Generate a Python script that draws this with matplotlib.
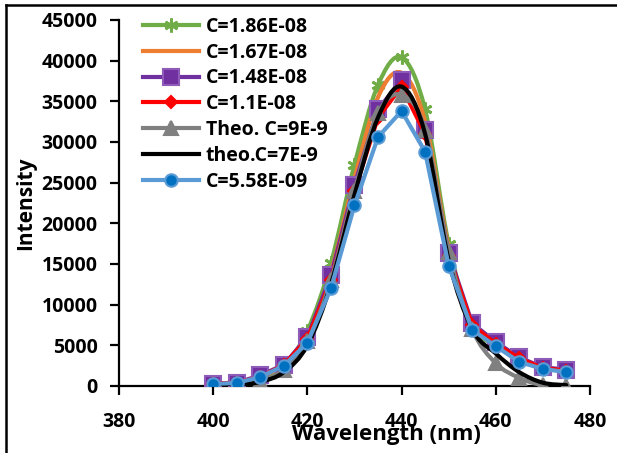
import matplotlib
matplotlib.use("Agg")
import matplotlib.pyplot as plt
import numpy as np
from matplotlib.path import Path
from matplotlib.patches import PathPatch
from matplotlib.lines import Line2D

plt.rcParams['font.family'] = ['Open Sans', 'DejaVu Sans']
plt.rcParams['font.weight'] = 'bold'

wavelength = [400, 405, 410, 415, 420, 425, 430, 435, 440, 445, 450, 455, 460, 465, 470, 475]

c186 = [300, 400, 1000, 2500, 6800, 15100, 27200, 37000, 40400, 34000, 17500, 7500, 5000, 3300, 2200, 1900]
c167 = [300, 400, 1200, 2600, 6200, 14000, 25500, 35500, 38500, 32500, 17000, 7600, 5300, 3400, 2200, 1900]
c148 = [300, 400, 1300, 2600, 6000, 13600, 24700, 34000, 37600, 31500, 16300, 7700, 5400, 3500, 2300, 2000]
c110 = [300, 400, 1100, 2600, 5800, 13000, 24000, 33000, 36800, 31000, 16000, 7500, 5200, 3400, 2200, 1900]
theo9 = [100, 200, 600, 2000, 5500, 13000, 24000, 33500, 35800, 31500, 16500, 7000, 2800, 1000, 100, 50]
theo7 = [100, 150, 500, 1700, 5000, 12500, 23500, 33000, 36800, 31000, 15500, 7000, 4000, 1700, 400, 100]
c558 = [250, 370, 1100, 2500, 5300, 12000, 22200, 30600, 33800, 28800, 14800, 6900, 4900, 2950, 2100, 1700]

labels = ['C=1.86E-08', 'C=1.67E-08', 'C=1.48E-08', 'C=1.1E-08',
          'Theo. C=9E-9', 'theo.C=7E-9', 'C=5.58E-09']

# (color, marker, markersize, marker face, marker edge, smooth)
styles = [
    ('#70AD47', (6, 2, 0), 10, '#70AD47', '#70AD47', True),
    ('#ED7D31', 'None', 0, '#ED7D31', '#ED7D31', True),
    ('#7030A0', 's', 12, '#7030A0', '#8E5CB8', False),
    ('#FF0000', 'D', 6.5, '#FF0000', '#FF0000', False),
    ('#808080', '^', 10, '#808080', '#808080', True),
    ('black', 'None', 0, 'black', 'black', True),
    ('#5B9BD5', 'o', 9, '#0070C0', '#5B9BD5', False),
]
series = [c186, c167, c148, c110, theo9, theo7, c558]


def smooth_path(x, y):
    # Catmull-Rom style bezier like Excel smoothed lines
    x = np.asarray(x, float)
    y = np.asarray(y, float)
    verts = [(x[0], y[0])]
    codes = [Path.MOVETO]
    n = len(x)
    for i in range(n - 1):
        p0 = (x[max(i - 1, 0)], y[max(i - 1, 0)])
        p1 = (x[i], y[i])
        p2 = (x[i + 1], y[i + 1])
        p3 = (x[min(i + 2, n - 1)], y[min(i + 2, n - 1)])
        c1 = (p1[0] + (p2[0] - p0[0]) / 6, p1[1] + (p2[1] - p0[1]) / 6)
        c2 = (p2[0] - (p3[0] - p1[0]) / 6, p2[1] - (p3[1] - p1[1]) / 6)
        verts += [c1, c2, p2]
        codes += [Path.CURVE4] * 3
    return Path(verts, codes)


fig = plt.figure(figsize=(6.17, 4.53), dpi=100)
ax = fig.add_axes([0.193, 0.148, 0.763, 0.808])

handles = []
for k, (vals, st) in enumerate(zip(series, styles)):
    color, mk, ms, mfc, mec, smooth = st
    lw = 3.0
    z = 2 + k
    mew = 2 if mk == (6, 2, 0) else 1.5
    if smooth:
        patch = PathPatch(smooth_path(wavelength, vals), fill=False, edgecolor=color,
                          lw=lw, zorder=z, capstyle='round', joinstyle='round')
        ax.add_patch(patch)
        if mk != 'None':
            ax.plot(wavelength, vals, linestyle='none', marker=mk, ms=ms, mfc=mfc,
                    mec=mec, mew=mew, zorder=z)
    else:
        ax.plot(wavelength, vals, color=color, lw=lw, marker=mk, ms=ms, mfc=mfc,
                mec=mec, mew=mew, zorder=z, solid_joinstyle='round')
    handles.append(Line2D([], [], color=color, lw=lw, marker=mk, ms=ms, mfc=mfc,
                          mec=mec, mew=mew))

ax.set_xlim(380, 480)
ax.set_ylim(0, 45000)
ax.set_xticks(np.arange(380, 481, 20))
ax.set_yticks(np.arange(0, 45001, 5000))
for s in ['top', 'right']:
    ax.spines[s].set_visible(False)
for s in ['left', 'bottom']:
    ax.spines[s].set_linewidth(1.6)
ax.tick_params(axis='both', direction='out', length=6.5, width=1.6, labelsize=14)
ax.tick_params(axis='x', pad=12)
ax.tick_params(axis='y', pad=9)

ax.set_xlabel('Wavelength (nm)', fontsize=16, fontweight='bold')
ax.xaxis.set_label_coords(0.567, -0.103)
ax.set_ylabel('Intensity', fontsize=15, fontweight='bold')
ax.yaxis.set_label_coords(-0.176, 0.5)

fig.legend(handles, labels, loc='upper left', bbox_to_anchor=(0.232, 0.963),
           frameon=False, fontsize=14, handlelength=2.85, handletextpad=0.36,
           labelspacing=0.3, borderpad=0, borderaxespad=0)

# chart area border (left and top visible)
fig.add_artist(Line2D([0.0097, 0.0097], [0, 0.988], color='black', lw=1.8,
                      transform=fig.transFigure))
fig.add_artist(Line2D([0.0097, 1], [0.988, 0.988], color='black', lw=1.8,
                      transform=fig.transFigure))

fig.savefig('out.png', dpi=100)
